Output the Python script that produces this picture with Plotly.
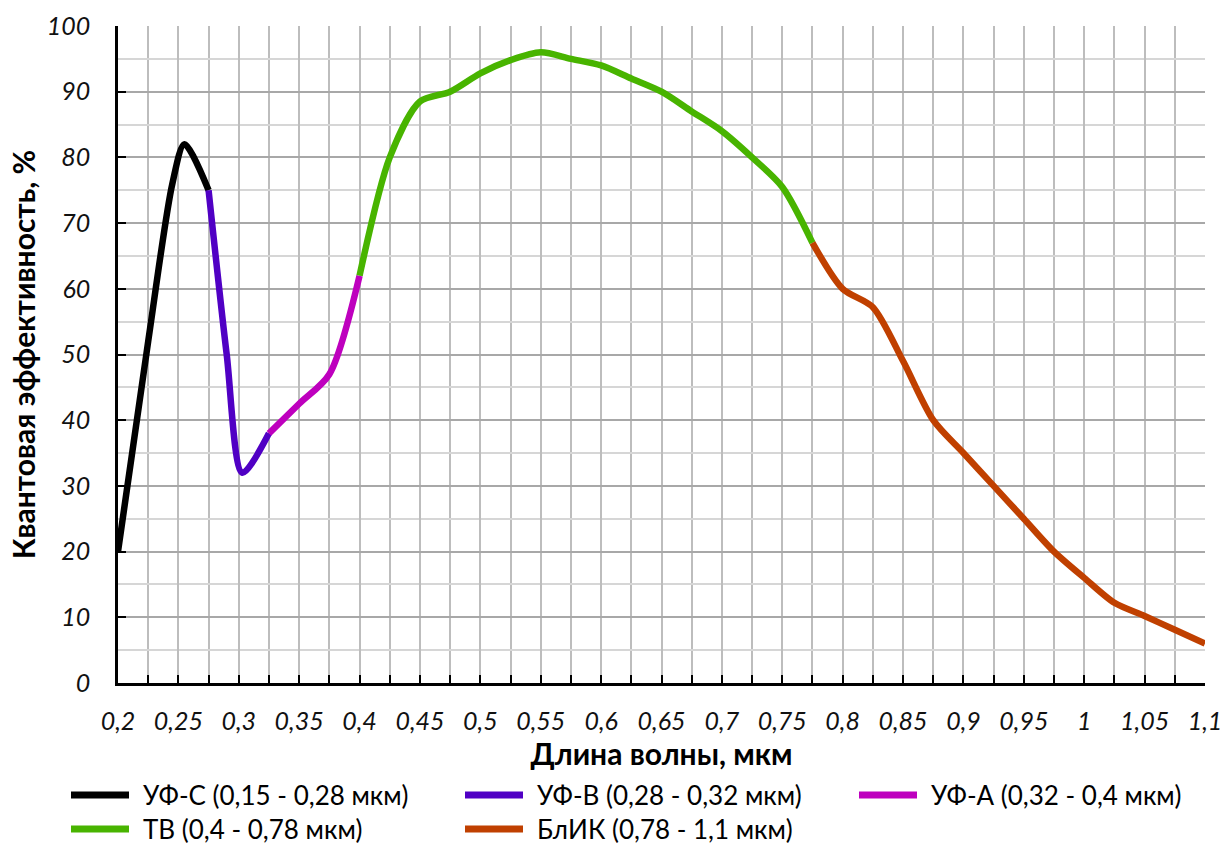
import plotly.graph_objects as go

# ---- data ----
uvc_x = [0.2, 0.225, 0.245, 0.255, 0.275]
uvc_y = [20, 52, 76, 82, 75]

uvb_x = [0.275, 0.29, 0.303, 0.325]
uvb_y = [75, 50, 32, 38]

uva_x = [0.325, 0.35, 0.375, 0.4]
uva_y = [38, 42.5, 47, 62]

vis_x = [0.4, 0.425, 0.45, 0.475, 0.5, 0.525, 0.55, 0.575, 0.6, 0.625, 0.65,
         0.675, 0.7, 0.725, 0.75, 0.775]
vis_y = [62, 80, 88.5, 90, 92.8, 94.8, 96, 95, 94, 92, 90, 87, 84, 80, 75.5, 67]

nir_x = [0.775, 0.8, 0.825, 0.85, 0.875, 0.9, 0.925, 0.95, 0.975, 1.0, 1.025,
         1.05, 1.075, 1.1]
nir_y = [67, 60, 57.2, 49, 40, 35, 30, 25, 20, 16, 12.2, 10.2, 8.1, 6]

series_names = ["УФ-С (0,15 - 0,28 мкм)", "УФ-В (0,28 - 0,32 мкм)",
                "УФ-А (0,32 - 0,4 мкм)", "ТВ (0,4 - 0,78 мкм)",
                "БлИК (0,78 - 1,1 мкм)"]
series_colors = ["#000000", "#5000C4", "#BE00BE", "#48B400", "#C04000"]

x_tickvals = [0.2, 0.25, 0.3, 0.35, 0.4, 0.45, 0.5, 0.55, 0.6, 0.65, 0.7, 0.75,
              0.8, 0.85, 0.9, 0.95, 1.0, 1.05, 1.1]
x_ticktext = ["0,2", "0,25", "0,3", "0,35", "0,4", "0,45", "0,5", "0,55", "0,6",
              "0,65", "0,7", "0,75", "0,8", "0,85", "0,9", "0,95", "1", "1,05", "1,1"]
y_tickvals = [0, 10, 20, 30, 40, 50, 60, 70, 80, 90, 100]

FONT = "Lato, 'Open Sans', sans-serif"

W, H = 1227, 846
ML, MR, MT, MB = 118, 22, 26, 163
PW, PH = W - ML - MR, H - MT - MB


def px_to_paper_x(px):
    return (px - ML) / PW


def px_to_paper_y(py):
    return (MT + PH - py) / PH


fig = go.Figure()
all_x = [uvc_x, uvb_x, uva_x, vis_x, nir_x]
all_y = [uvc_y, uvb_y, uva_y, vis_y, nir_y]
for xs, ys, name, col in zip(all_x, all_y, series_names, series_colors):
    fig.add_trace(go.Scatter(
        x=xs, y=ys, name=name, mode="lines", showlegend=False,
        line=dict(color=col, width=6.5, shape="spline", smoothing=0.8),
    ))

# legend laid out in 3 columns x 2 rows below the plot (page pixel coords)
leg_col_x = [71, 465, 859]
leg_row_y = [795, 829]
for i, (name, col) in enumerate(zip(series_names, series_colors)):
    cx = leg_col_x[i % 3]
    cy = leg_row_y[i // 3]
    fig.add_shape(type="line", xref="paper", yref="paper",
                  x0=px_to_paper_x(cx), x1=px_to_paper_x(cx + 58),
                  y0=px_to_paper_y(cy), y1=px_to_paper_y(cy),
                  line=dict(color=col, width=7))
    fig.add_annotation(xref="paper", yref="paper",
                       x=px_to_paper_x(cx + 71), y=px_to_paper_y(cy),
                       xanchor="left", yanchor="middle", showarrow=False,
                       borderpad=0,
                       text=name, font=dict(family=FONT, size=26, color="#000000"))

fig.update_layout(
    width=W, height=H,
    margin=dict(l=ML, r=MR, t=MT, b=MB),
    paper_bgcolor="white", plot_bgcolor="white",
    font=dict(family=FONT, color="#000000"),
    showlegend=False,
    xaxis=dict(
        range=[0.2, 1.1], tickvals=x_tickvals, ticktext=x_ticktext,
        automargin=False, ticklabeloverflow="allow",
        showgrid=True, gridcolor="#BDBDBD", gridwidth=1.5,
        ticks="inside", ticklen=8, tickwidth=2, tickcolor="#000000",
        showline=True, linecolor="#000000", linewidth=2.5,
        zeroline=False,
        minor=dict(dtick=0.025, tick0=0.2, showgrid=True, gridcolor="#BDBDBD",
                   gridwidth=1.5, ticks="inside", ticklen=8, tickwidth=2,
                   tickcolor="#000000"),
        tickfont=dict(family=FONT, size=25, style="italic", color="#111111"),
        ticklabelstandoff=14,
        title=dict(text="<b>Длина волны, мкм</b>",
                   font=dict(family=FONT, size=30, color="#000000"), standoff=0),
    ),
    yaxis=dict(
        range=[0, 100], tickvals=y_tickvals,
        automargin=False,
        showgrid=True, gridcolor="#A8A8A8", gridwidth=2,
        ticks="inside", ticklen=8, tickwidth=2, tickcolor="#000000",
        showline=True, linecolor="#000000", linewidth=2.5,
        zeroline=False,
        minor=dict(dtick=5, tick0=0, showgrid=True, gridcolor="#D6D6D6",
                   gridwidth=2, ticks=""),
        tickfont=dict(family=FONT, size=25, style="italic", color="#111111"),
        ticklabelstandoff=20,
        title=dict(text="<b>Квантовая эффективность, %</b>",
                   font=dict(family=FONT, size=30, color="#000000"), standoff=3),
    ),
)

# remove the browser's default 8px body margin so the figure fills the window
fig.write_html("out.html",
               config={"displayModeBar": False},
               post_script="document.body.style.margin='0';"
                           "document.body.style.overflow='hidden';")
